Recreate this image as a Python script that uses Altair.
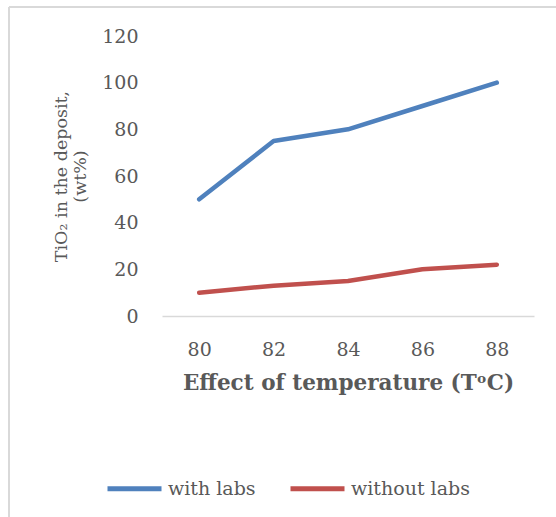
import altair as alt
import pandas as pd

temps = ["80", "82", "84", "86", "88"]
with_labs = [50, 75, 80, 90, 100]
without_labs = [10, 13, 15, 20, 22]
series_names = ["with labs", "without labs"]
colors = ["#4F81BD", "#C0504D"]

rows = []
for t, v in zip(temps, with_labs):
    rows.append({"temp": t, "value": v, "series": series_names[0]})
for t, v in zip(temps, without_labs):
    rows.append({"temp": t, "value": v, "series": series_names[1]})
df = pd.DataFrame(rows)

FONT = "DejaVu Serif"
GRAY = "#595959"

lines = alt.Chart(df).mark_line(strokeWidth=4.5, strokeCap="round", strokeJoin="round").encode(
    x=alt.X("temp:O", sort=temps, scale=alt.Scale(paddingOuter=0.5, paddingInner=0),
            axis=alt.Axis(title="Effect of temperature (TᵒC)", labelAngle=0, ticks=False,
                          domainColor="#d9d9d9", domainWidth=1.5,
                          labelFont=FONT, labelFontSize=19, labelColor=GRAY, labelPadding=24,
                          titleFont=FONT, titleFontSize=21.5, titleFontWeight="bold",
                          titleColor=GRAY, titlePadding=13)),
    y=alt.Y("value:Q", scale=alt.Scale(domain=[0, 120]),
            axis=alt.Axis(values=[0, 20, 40, 60, 80, 100, 120], title=["TiO₂ in the deposit,", "(wt%)"],
                          grid=False, domain=False, ticks=False,
                          labelFont=FONT, labelFontSize=19, labelColor=GRAY, labelPadding=24,
                          titleFont=FONT, titleFontSize=17.5, titleFontWeight="normal",
                          titleColor=GRAY, titlePadding=12)),
    color=alt.Color("series:N", sort=series_names,
                    scale=alt.Scale(domain=series_names, range=colors),
                    legend=alt.Legend(title=None, orient="none", direction="horizontal",
                                      legendX=-57, legendY=423, symbolType="stroke",
                                      symbolSize=2916, symbolStrokeWidth=5,
                                      labelFont=FONT, labelFontSize=19, labelColor=GRAY,
                                      labelOffset=4, columnPadding=24)),
)

border_df = pd.DataFrame({"a": [0]})
left_border = alt.Chart(border_df).mark_rule(color="#d9d9d9", strokeWidth=2).encode(
    x=alt.value(-153), y=alt.value(-29), y2=alt.value(490))
top_border = alt.Chart(border_df).mark_rule(color="#d9d9d9", strokeWidth=2).encode(
    x=alt.value(-153), x2=alt.value(400), y=alt.value(-29))

chart = alt.layer(lines, left_border, top_border).properties(
    width=372, height=280,
    autosize=alt.AutoSizeParams(type="none"),
    padding={"left": 162, "top": 36, "right": 22, "bottom": 201},
).configure_view(stroke=None)

chart.save("out.html", embed_options={"renderer": "svg", "actions": False})
